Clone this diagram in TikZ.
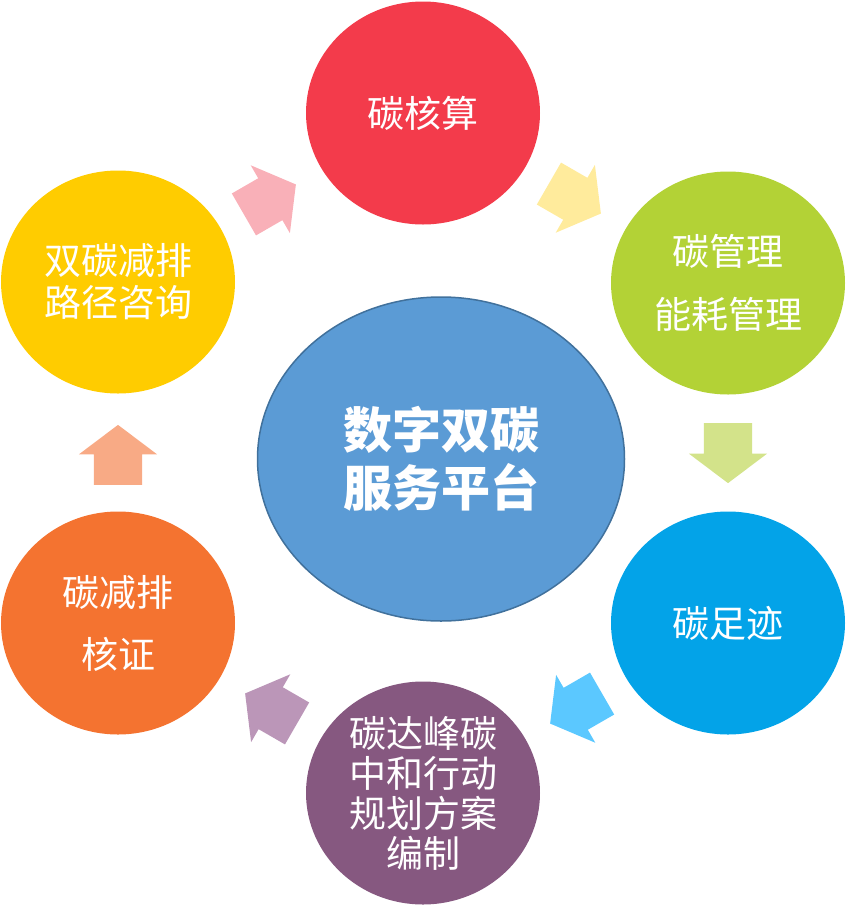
\documentclass[tikz,border=0pt]{standalone}
\usepackage{fontspec}
\setmainfont{Noto Sans CJK SC}
\usetikzlibrary{shapes.geometric,shapes.arrows}
\definecolor{cred}{HTML}{F33B4B}
\definecolor{cgreen}{HTML}{B3D236}
\definecolor{ccyan}{HTML}{03A3E8}
\definecolor{cpurple}{HTML}{865880}
\definecolor{corange}{HTML}{F47330}
\definecolor{cyellow}{HTML}{FFCC00}
\definecolor{ccenter}{HTML}{5B9BD5}
\definecolor{ccenterb}{HTML}{41719C}
\definecolor{apink}{HTML}{F9B0B8}
\definecolor{ayellow}{HTML}{FFEB9C}
\definecolor{agreen}{HTML}{D3E38A}
\definecolor{ablue}{HTML}{5BC8FF}
\definecolor{alilac}{HTML}{BB96B8}
\definecolor{apeach}{HTML}{F8AA85}
\begin{document}
\begin{tikzpicture}[x=1pt,y=-1pt,
  circ/.style={ellipse,inner sep=0pt,minimum width=234pt,minimum height=223pt,
    fill=#1,text=white,align=center,font=\fontsize{37}{40}\selectfont},
  blockarrow/.style={single arrow,inner xsep=0pt,inner ysep=24pt,minimum height=60pt,
    single arrow head extend=15pt,single arrow tip angle=106,fill=#1,draw=none}]
\useasboundingbox (0,0) rectangle (847,908);
\node[circ=cred] (hesuan) at (423,113) {碳核算};
\node[circ=cgreen,font=\fontsize{37}{63}\selectfont] (guanli) at (728,283) {碳管理\\能耗管理};
\node[circ=ccyan] (zuji) at (728,623) {碳足迹};
\node[circ=cpurple] (guihua) at (423,793) {碳达峰碳\\中和行动\\规划方案\\编制};
\node[circ=corange,font=\fontsize{37}{62}\selectfont] (hezheng) at (118,623) {碳减排\\核证};
\node[circ=cyellow,font=\fontsize{37}{42}\selectfont] (zixun) at (118,282) {双碳减排\\路径咨询};
\node[ellipse,inner sep=0pt,minimum width=367pt,minimum height=324pt,fill=ccenter,
  draw=ccenterb,line width=1.5pt,text=white,align=center,
  font=\fontsize{49}{58}\selectfont\bfseries] (center) at (441,459) {数字双碳\\服务平台};
\node[blockarrow=apink,rotate=30] (a1) at (262,204) {};
\node[blockarrow=ayellow,rotate=-30] (a2) at (567,194) {};
\node[blockarrow=agreen,rotate=-90] (a3) at (728,444) {};
\node[blockarrow=ablue,rotate=210] (a4) at (584,704) {};
\node[blockarrow=alilac,rotate=150] (a5) at (279,713) {};
\node[blockarrow=apeach,rotate=90] (a6) at (118,464) {};
\end{tikzpicture}
\end{document}
